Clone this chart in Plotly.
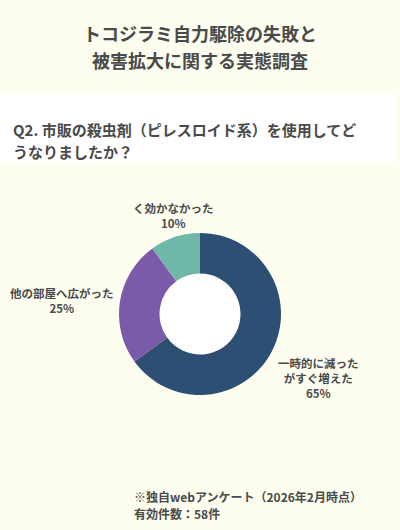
import math
import plotly.graph_objects as go

# データ
labels = ["一時的に減った<br>がすぐ増えた", "他の部屋へ広がった", "く効かなかった"]
values = [65, 25, 10]
colors = ["#2d4f73", "#7b5ba9", "#6fb8a9"]

title_lines = ["トコジラミ自力駆除の失敗と", "被害拡大に関する実態調査"]
question_lines = ["Q2. 市販の殺虫剤（ピレスロイド系）を使用してど", "うなりましたか？"]
note_lines = ["※独自webアンケート（2026年2月時点）", "有効件数：58件"]

W, H = 400, 530
FONT = "Noto Sans CJK JP"
TEXT = "#4a4a4a"
BG = "#fdfdf0"

# ドーナツの位置（px）
cx, cy, r = 200, 314, 81
hole = 0.5
label_r = 85  # ラベルを置く半径

fig = go.Figure(go.Pie(
    labels=labels,
    values=values,
    hole=hole,
    sort=False,
    direction="clockwise",
    rotation=0,
    marker=dict(colors=colors, line=dict(width=0)),
    textinfo="none",
    domain=dict(x=[(cx - 120) / W, (cx + 120) / W], y=[1 - (cy + r) / H, 1 - (cy - r) / H]),
    automargin=False,
    showlegend=False,
    hoverinfo="label+percent",
))

shapes = [
    # 設問エリアの白い帯
    dict(type="rect", xref="paper", yref="paper", x0=0, x1=395 / W, y0=1 - 163 / H, y1=1 - 93 / H,
         fillcolor="white", line=dict(width=0), layer="below"),
    # ドーナツの穴（白）
    dict(type="circle", xref="paper", yref="paper",
         x0=(cx - r * hole) / W, x1=(cx + r * hole) / W,
         y0=1 - (cy + r * hole) / H, y1=1 - (cy - r * hole) / H,
         fillcolor="white", line=dict(width=0), layer="below"),
]


def line_annot(text, x_px, y_px, size, anchor="left"):
    return dict(text="<b>" + text + "</b>", x=x_px / W, y=1 - y_px / H, xref="paper", yref="paper",
                xanchor=anchor, yanchor="middle", showarrow=False,
                font=dict(family=FONT, size=size, color=TEXT))


annotations = []
for i, t in enumerate(title_lines):
    annotations.append(line_annot(t, 200, 33 + i * 27, 18, "center"))
for i, t in enumerate(question_lines):
    annotations.append(line_annot(t, 11, 130 + i * 21, 15))
for i, t in enumerate(note_lines):
    annotations.append(line_annot(t, 132, 496 + i * 17, 12))

# スライスの外側にラベル（中心角から位置を計算）
total = sum(values)
cum = 0
for lab, v in zip(labels, values):
    theta = 2 * math.pi * (cum + v / 2) / total
    cum += v
    s, c = math.sin(theta), math.cos(theta)
    px = cx + label_r * s
    py = cy - label_r * c
    xa = "left" if s > 0.5 else ("right" if s < -0.5 else "center")
    ya = "top" if c < -0.4 else ("bottom" if c > 0.4 else "middle")
    annotations.append(dict(
        text=f"<b>{lab}</b><br><b>{round(100 * v / total)}%</b>",
        x=px / W, y=1 - py / H, xref="paper", yref="paper",
        xanchor=xa, yanchor=ya, align="center", showarrow=False,
        font=dict(family=FONT, size=11.5, color=TEXT),
    ))

fig.update_layout(
    width=W, height=H,
    margin=dict(l=0, r=0, t=0, b=0, pad=0, autoexpand=False),
    paper_bgcolor=BG,
    plot_bgcolor=BG,
    shapes=shapes,
    annotations=annotations,
)

fig.write_html("out.html", config={"displayModeBar": False},
               post_script="document.body.style.margin='0';")
